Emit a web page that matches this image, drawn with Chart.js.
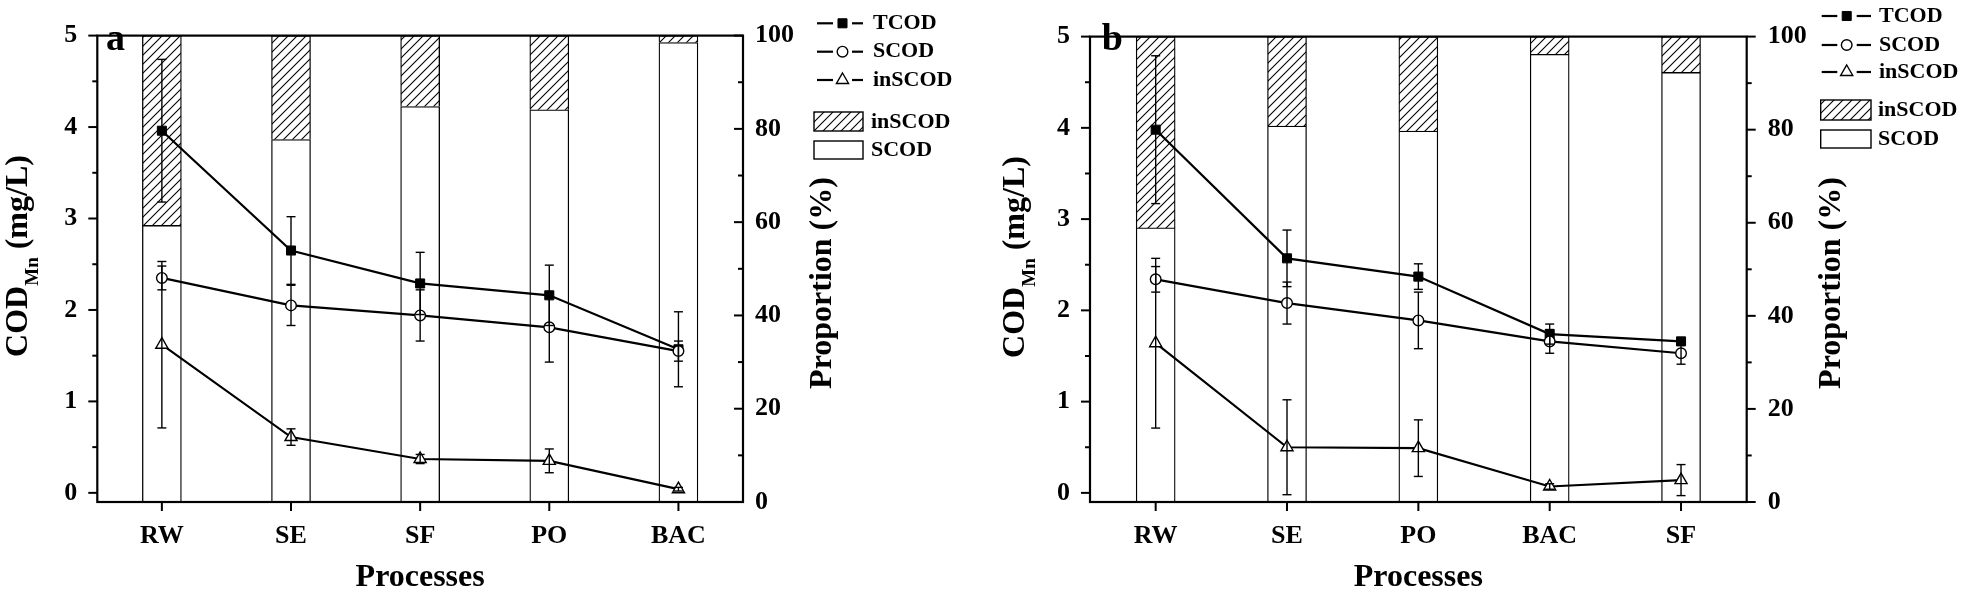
<!DOCTYPE html>
<html>
<head>
<meta charset="utf-8">
<script src="https://cdn.jsdelivr.net/npm/chart.js@4.4.1/dist/chart.umd.min.js"></script>
<style>
body { margin: 0; background: #fff; }
canvas { position: absolute; top: 0; }
</style>
</head>
<body>
<canvas id="chartA" width="980" height="595" style="left:0px"></canvas>
<canvas id="chartB" width="981" height="595" style="left:980px"></canvas>
<script>
const FONT = "'Liberation Serif', 'Times New Roman', serif";

// panel a
const catsA = ['RW', 'SE', 'SF', 'PO', 'BAC'];
const tcodA = [3.96, 2.65, 2.29, 2.16, 1.57];
const tcodErrA = [0.78, 0.37, 0.34, 0.33, 0.41];
const scodA = [2.35, 2.05, 1.94, 1.81, 1.55];
const scodErrA = [0.13, 0.22, 0.28, 0.38, 0.11];
const inscodA = [1.62, 0.61, 0.37, 0.35, 0.04];
const inscodErrA = [0.91, 0.09, 0.05, 0.13, 0.02];
const scodPctA = [59.3, 77.7, 84.8, 84.1, 98.5];
const inscodPctA = [40.7, 22.3, 15.2, 15.9, 1.5];

// panel b
const catsB = ['RW', 'SE', 'PO', 'BAC', 'SF'];
const tcodB = [3.98, 2.57, 2.37, 1.74, 1.66];
const tcodErrB = [0.81, 0.31, 0.14, 0.11, 0];
const scodB = [2.34, 2.08, 1.89, 1.66, 1.53];
const scodErrB = [0.14, 0.23, 0.31, 0.13, 0.12];
const inscodB = [1.64, 0.50, 0.49, 0.07, 0.14];
const inscodErrB = [0.93, 0.52, 0.31, 0.03, 0.17];
const scodPctB = [58.9, 80.8, 79.7, 96.2, 92.3];
const inscodPctB = [41.1, 19.2, 20.3, 3.8, 7.7];

// axes
const codTicks = [0, 1, 2, 3, 4, 5];
const pctTicks = [0, 20, 40, 60, 80, 100];
const codMinorStep = 0.5;
const pctMinorStep = 10;

function makeHatch() {
  const c = document.createElement('canvas');
  c.width = 9; c.height = 9;
  const g = c.getContext('2d');
  g.fillStyle = '#fff';
  g.fillRect(0, 0, 9, 9);
  g.strokeStyle = '#000';
  g.lineWidth = 1.1;
  g.beginPath();
  g.moveTo(-1, 10); g.lineTo(10, -1);
  g.moveTo(-1, 1); g.lineTo(1, -1);
  g.moveTo(8, 10); g.lineTo(10, 8);
  g.stroke();
  return g.createPattern(c, 'repeat');
}
const hatch = makeHatch();

function seg(ctx, x1, y1, x2, y2) {
  ctx.beginPath();
  ctx.moveTo(x1, y1);
  ctx.lineTo(x2, y2);
  ctx.stroke();
}

const decor = {
  id: 'decor',
  afterDatasetsDraw(chart) {
    const { ctx, chartArea: a, scales } = chart;
    const p = chart.options.plugins.decor;
    ctx.save();
    ctx.strokeStyle = '#000';

    // error bars
    ctx.lineWidth = 1.4;
    chart.data.datasets.forEach((ds, i) => {
      if (!ds.errors) return;
      const meta = chart.getDatasetMeta(i);
      const ys = scales[meta.yAxisID];
      meta.data.forEach((pt, j) => {
        const e = ds.errors[j];
        if (!e) return;
        const y1 = ys.getPixelForValue(ds.data[j] + e);
        const y2 = ys.getPixelForValue(ds.data[j] - e);
        seg(ctx, pt.x, y1, pt.x, y2);
        seg(ctx, pt.x - 4.5, y1, pt.x + 4.5, y1);
        seg(ctx, pt.x - 4.5, y2, pt.x + 4.5, y2);
      });
    });

    // frame
    ctx.lineWidth = 2.2;
    ctx.strokeRect(a.left, a.top, a.right - a.left, a.bottom - a.top);

    // tick marks
    ctx.lineWidth = 2;
    const y = scales.y, y2 = scales.y2, x = scales.x;
    for (let v = 0; v <= 5 + 1e-9; v += codMinorStep) {
      const len = codTicks.includes(Math.round(v * 10) / 10) ? 9 : 5;
      const py = y.getPixelForValue(v);
      seg(ctx, a.left - len, py, a.left, py);
    }
    for (let v = 0; v <= 100; v += pctMinorStep) {
      const len = pctTicks.includes(v) ? 9 : 5;
      const py = y2.getPixelForValue(v);
      seg(ctx, a.right, py, a.right + p.rightTickDir * len, py);
    }
    chart.data.labels.forEach((l, i) => {
      const px = x.getPixelForValue(i);
      seg(ctx, px, a.bottom, px, a.bottom + 9);
    });
    ctx.restore();
  },
  afterDraw(chart) {
    const { ctx } = chart;
    const p = chart.options.plugins.decor;
    ctx.save();
    ctx.fillStyle = '#000';
    ctx.strokeStyle = '#000';

    // left axis title with subscript
    ctx.save();
    ctx.translate(p.codTitle.x, p.codTitle.y);
    ctx.rotate(-Math.PI / 2);
    ctx.textAlign = 'left';
    ctx.textBaseline = 'alphabetic';
    const big = `bold 32px ${FONT}`, small = `bold 19px ${FONT}`;
    ctx.font = big;
    const w1 = ctx.measureText('COD').width, w3 = ctx.measureText(' (mg/L)').width;
    ctx.font = small;
    const w2 = ctx.measureText('Mn').width;
    let tx = -(w1 + w2 + w3) / 2;
    ctx.font = big; ctx.fillText('COD', tx, 0); tx += w1;
    ctx.font = small; ctx.fillText('Mn', tx, 11); tx += w2;
    ctx.font = big; ctx.fillText(' (mg/L)', tx, 0);
    ctx.restore();

    // right axis title
    ctx.save();
    ctx.translate(p.pctTitle.x, p.pctTitle.y);
    ctx.rotate(-Math.PI / 2);
    ctx.textAlign = 'center';
    ctx.textBaseline = 'middle';
    ctx.font = `bold 32px ${FONT}`;
    ctx.fillText('Proportion (%)', 0, 0);
    ctx.restore();

    // panel letter
    ctx.font = `bold 38px ${FONT}`;
    ctx.textAlign = 'left';
    ctx.textBaseline = 'alphabetic';
    ctx.fillText(p.letter.t, p.letter.x, p.letter.y);

    // legend
    const L = p.legend;
    ctx.font = `bold 22px ${FONT}`;
    ctx.textBaseline = 'middle';
    const lines = chart.data.datasets.filter(d => d.type === 'line');
    lines.forEach((d, i) => {
      const ly = L.lineY[i];
      ctx.lineWidth = 2.2;
      seg(ctx, L.segL[0], ly, L.segL[1], ly);
      seg(ctx, L.segR[0], ly, L.segR[1], ly);
      ctx.fillStyle = d.pointBackgroundColor;
      ctx.lineWidth = d.pointBorderWidth;
      Chart.helpers.drawPoint(ctx, { pointStyle: d.pointStyle, radius: d.pointRadius, borderWidth: d.pointBorderWidth, rotation: 0 }, L.xm, ly);
      ctx.fillStyle = '#000';
      ctx.fillText(d.label, L.tx, ly);
    });
    const bars = chart.data.datasets.filter(d => d.type === 'bar').reverse();
    bars.forEach((d, i) => {
      const r = L.rows[i];
      ctx.fillStyle = d.backgroundColor;
      ctx.fillRect(L.bx[0], r[0], L.bx[1] - L.bx[0], r[1] - r[0]);
      ctx.lineWidth = 1.4;
      ctx.strokeRect(L.bx[0], r[0], L.bx[1] - L.bx[0], r[1] - r[0]);
      ctx.fillStyle = '#000';
      ctx.fillText(d.label, L.btx, r[2]);
    });
    ctx.restore();
  }
};

function buildChart(id, cfg) {
  const tickFont = { family: FONT, size: 26, weight: 'bold' };
  const lineBase = { type: 'line', yAxisID: 'y', borderColor: '#000', borderWidth: 2.2, tension: 0,
    pointBorderColor: '#000' };
  return new Chart(document.getElementById(id), {
    type: 'bar',
    data: {
      labels: cfg.cats,
      datasets: [
        Object.assign({}, lineBase, { label: 'TCOD', data: cfg.tcod, errors: cfg.tcodErr, order: 3,
          pointStyle: 'rect', pointRadius: 6.4, pointBackgroundColor: '#000', pointBorderWidth: 1 }),
        Object.assign({}, lineBase, { label: 'SCOD', data: cfg.scod, errors: cfg.scodErr, order: 1,
          pointStyle: 'circle', pointRadius: 5.3, pointBackgroundColor: '#fff', pointBorderWidth: 1.4 }),
        Object.assign({}, lineBase, { label: 'inSCOD', data: cfg.inscod, errors: cfg.inscodErr, order: 2,
          pointStyle: 'triangle', pointRadius: 7, pointBackgroundColor: '#fff', pointBorderWidth: 1.4 }),
        { type: 'bar', label: 'SCOD', data: cfg.scodPct, yAxisID: 'y2', backgroundColor: '#fff',
          borderColor: '#000', borderWidth: 1.3, barThickness: 39, order: 5 },
        { type: 'bar', label: 'inSCOD', data: cfg.inscodPct, yAxisID: 'y2', backgroundColor: hatch,
          borderColor: '#000', borderWidth: 1.3, barThickness: 39, order: 5 }
      ]
    },
    options: {
      responsive: false,
      animation: false,
      layout: { padding: { top: cfg.top, left: 0, right: 0, bottom: 0 } },
      plugins: {
        legend: { display: false },
        tooltip: { enabled: false },
        decor: cfg.decor
      },
      scales: {
        x: {
          stacked: true,
          offset: true,
          grid: { display: false, drawTicks: false },
          border: { display: false },
          ticks: { font: tickFont, color: '#000', padding: 19, maxRotation: 0, autoSkip: false },
          title: { display: true, text: 'Processes', color: '#000',
            font: { family: FONT, size: 32, weight: 'bold', lineHeight: 1 }, padding: { top: 0, bottom: 1 } },
          afterFit: s => { s.height = 93; }
        },
        y: {
          position: 'left',
          min: -0.1, max: 5,
          grid: { display: false, drawTicks: false },
          border: { display: false },
          ticks: { font: tickFont, color: '#000', padding: 20 },
          afterBuildTicks: s => { s.ticks = codTicks.map(v => ({ value: v })); },
          afterFit: s => { s.width = cfg.left; }
        },
        y2: {
          position: 'right',
          stacked: true,
          min: 0, max: 100,
          grid: { display: false, drawTicks: false },
          border: { display: false },
          ticks: { font: tickFont, color: '#000', padding: cfg.rightPad },
          afterBuildTicks: s => { s.ticks = pctTicks.map(v => ({ value: v })); },
          afterFit: s => { s.width = cfg.width - cfg.right; }
        }
      }
    },
    plugins: [decor]
  });
}

buildChart('chartA', {
  cats: catsA, tcod: tcodA, tcodErr: tcodErrA, scod: scodA, scodErr: scodErrA,
  inscod: inscodA, inscodErr: inscodErrA, scodPct: scodPctA, inscodPct: inscodPctA,
  width: 980, left: 97.3, right: 743, top: 22.7, rightPad: 12,
  decor: {
    rightTickDir: -1,
    codTitle: { x: 27, y: 256 },
    pctTitle: { x: 823, y: 283 },
    letter: { t: 'a', x: 106, y: 50 },
    legend: { segL: [817, 833], xm: 842.5, segR: [852, 863], tx: 873, lineY: [23.3, 51.7, 80],
      bx: [814, 863], btx: 871, rows: [[112, 131, 122], [141, 159, 150]] }
  }
});

buildChart('chartB', {
  cats: catsB, tcod: tcodB, tcodErr: tcodErrB, scod: scodB, scodErr: scodErrB,
  inscod: inscodB, inscodErr: inscodErrB, scodPct: scodPctB, inscodPct: inscodPctB,
  width: 981, left: 110, right: 766.7, top: 15, rightPad: 21,
  decor: {
    rightTickDir: 1,
    codTitle: { x: 43.5, y: 257 },
    pctTitle: { x: 851.7, y: 283 },
    letter: { t: 'b', x: 121.7, y: 50 },
    legend: { segL: [841.7, 857.3], xm: 866.7, segR: [876.7, 891], tx: 899, lineY: [16, 45, 72],
      bx: [840.7, 891], btx: 898, rows: [[100, 120, 110], [130, 148, 139]] }
  }
});
</script>
</body>
</html>
